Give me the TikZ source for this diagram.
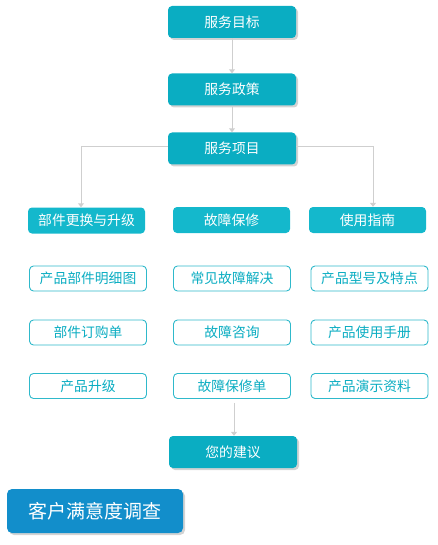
\documentclass[tikz,border=0pt]{standalone}
\usepackage{fontspec}
\setmainfont{Noto Sans CJK SC}
\usetikzlibrary{arrows.meta,positioning,shadows}
\definecolor{tealbox}{HTML}{0AADC2}
\definecolor{tealmid}{HTML}{14B8CC}
\definecolor{bluebox}{HTML}{128ECB}
\definecolor{linegray}{HTML}{CFCFCF}

\begin{document}
\begin{tikzpicture}[x=1pt,y=-1pt,
  mainbox/.style={fill=tealbox,rounded corners=4pt,minimum width=128pt,minimum height=32pt,
    text=white,font=\fontsize{13.8}{15}\selectfont,
    drop shadow={shadow xshift=2pt,shadow yshift=-2pt,opacity=0.35}},
  subbox/.style={fill=tealmid,rounded corners=4pt,minimum width=117pt,minimum height=26pt,
    text=white,font=\fontsize{13.8}{15}\selectfont},
  itembox/.style={draw=tealbox!85,line width=0.9pt,fill=white,rounded corners=4pt,minimum width=117pt,
    minimum height=25pt,text=tealbox,font=\fontsize{13.8}{15}\selectfont},
  link/.style={draw=linegray,line width=1pt,-{Triangle[width=6pt,length=4pt]}}]
  \useasboundingbox (0,0) rectangle (438,545);
  % top column
  \node[mainbox] (goal) at (232,22) {服务目标};
  \node[mainbox] (policy) at (232,89.5) {服务政策};
  \node[mainbox] (items) at (232,148.5) {服务项目};
  % three branches
  \node[subbox] (parts) at (86.5,220.5) {部件更换与升级};
  \node[subbox] (repair) at (231.5,220) {故障保修};
  \node[subbox] (guide) at (367.5,220) {使用指南};
  \node[itembox] (p1) at (88,278.5) {产品部件明细图};
  \node[itembox] (p2) at (88,332.5) {部件订购单};
  \node[itembox] (p3) at (88,386) {产品升级};
  \node[itembox] (r1) at (232,278.5) {常见故障解决};
  \node[itembox] (r2) at (232,332.5) {故障咨询};
  \node[itembox] (r3) at (232,386) {故障保修单};
  \node[itembox] (g1) at (369.5,278.5) {产品型号及特点};
  \node[itembox] (g2) at (369.5,332.5) {产品使用手册};
  \node[itembox] (g3) at (369.5,386) {产品演示资料};
  % bottom
  \node[mainbox] (advice) at (233,452) {您的建议};
  \node[fill=bluebox,rounded corners=5pt,minimum width=176pt,minimum height=44pt,
    text=white,font=\fontsize{19}{22}\selectfont,
    drop shadow={shadow xshift=2pt,shadow yshift=-2pt,opacity=0.35}] (survey) at (95,511) {客户满意度调查};
  % connectors
  \draw[link] (goal) -- (policy);
  \draw[link] (policy) -- (items);
  \draw[link] (items.west |- 0,147) -| (parts.north -| 81,0);
  \draw[link] (items.east |- 0,147) -| (guide.north -| 373,0);
  \draw[link] (r3.south) ++(2,4) -- (advice.north -| 234,0);
\end{tikzpicture}
\end{document}
